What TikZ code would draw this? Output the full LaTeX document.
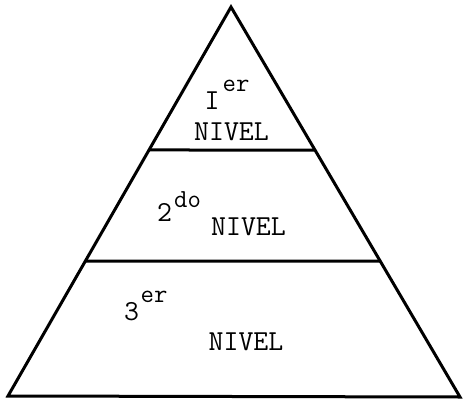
\documentclass[tikz,border=0pt]{standalone}
\usepackage{fontspec}
\usetikzlibrary{calc}
\begin{document}
\begin{tikzpicture}[x=1pt,y=-1pt,
  edge/.style={line width=3pt,line join=miter,line cap=round},
  lbl/.style={inner sep=0pt,anchor=base,font=\ttfamily\fontsize{29}{29}\selectfont},
  sup/.style={inner sep=0pt,anchor=base,font=\ttfamily\fontsize{26}{26}\selectfont}]
\useasboundingbox (0,0) rectangle (465,414);
\coordinate (A) at (231,7);
\coordinate (L) at (8,396);
\coordinate (R) at (460,397);
\draw[edge] (A) -- (L) -- (R) -- cycle;
\coordinate (l1) at ($(A)!0.3676!(L)$);
\coordinate (r1) at ($(A)!0.3667!(R)$);
\coordinate (l2) at ($(A)!0.6530!(L)$);
\coordinate (r2) at ($(A)!0.6513!(R)$);
\draw[edge] (l1) -- (r1);
\draw[edge] (l2) -- (r2);
\node[lbl] (n1) at (212,110) {I};
\node[sup] (s1) at (236,92) {er};
\node[lbl] (v1) at (231.5,141) {NIVEL};
\node[lbl] (n2) at (164.5,221) {2};
\node[sup] (s2) at (187.5,207) {do};
\node[lbl] (v2) at (248.5,235) {NIVEL};
\node[lbl] (n3) at (131.5,320) {3};
\node[sup] (s3) at (154,302) {er};
\node[lbl] (v3) at (246,350) {NIVEL};
\end{tikzpicture}
\end{document}
